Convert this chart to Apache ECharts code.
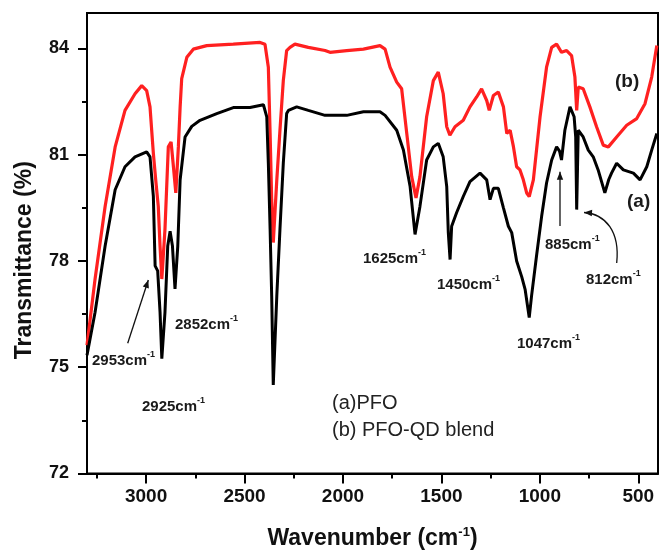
<!DOCTYPE html>
<html>
<head>
<meta charset="utf-8">
<script src="https://cdn.jsdelivr.net/npm/echarts@6/dist/echarts.min.js"></script>
<style>
html,body{margin:0;padding:0;background:#fff;}
#chart{width:659px;height:555px;}
</style>
</head>
<body>
<div id="chart"></div>
<script>
// ---- data ----
const pfoWave = [3300,3259,3208,3157,3107,3056,2997,2980,2963,2954,2941,2929,2920,2904,2890,2878,2866,2853,2839,2827,2802,2768,2726,2641,2557,2472,2404,2387,2379,2370,2362,2354,2336,2320,2303,2286,2277,2235,2176,2091,2066,1981,1896,1812,1786,1727,1693,1659,1634,1609,1575,1541,1516,1491,1473,1465,1456,1448,1423,1389,1355,1304,1270,1253,1236,1211,1185,1160,1143,1118,1092,1075,1054,1042,1017,991,966,940,915,900,890,873,847,826,818,813,805,780,754,729,704,670,650,636,610,576,525,491,457,432,406];
const pfoT = [75.34,76.55,78.42,80.01,80.66,80.94,81.08,80.94,79.82,77.86,77.72,76.55,75.24,76.55,78.42,78.84,78.42,77.21,78.42,80.29,81.50,81.80,81.97,82.16,82.33,82.33,82.41,82.07,80.76,78.89,77.02,74.50,77.02,78.89,80.76,82.16,82.25,82.35,82.25,82.11,82.11,82.11,82.21,82.21,82.11,81.69,81.13,80.10,78.75,79.54,80.85,81.22,81.32,80.94,80.10,78.80,78.04,78.98,79.36,79.82,80.24,80.48,80.29,79.73,80.05,80.05,79.50,78.98,78.80,78.00,77.55,77.20,76.40,77.02,78.14,79.26,80.20,80.85,81.22,81.10,80.85,81.69,82.35,82.07,81.50,79.45,81.69,81.50,81.13,80.94,80.57,79.92,80.30,80.48,80.76,80.57,80.48,80.29,80.66,81.13,81.60];

const blendWave = [3300,3259,3208,3157,3107,3056,3022,2997,2980,2963,2951,2938,2929,2920,2904,2887,2873,2861,2849,2836,2827,2819,2793,2760,2692,2557,2421,2396,2379,2370,2362,2354,2345,2336,2320,2303,2286,2269,2244,2176,2091,2066,1981,1896,1812,1786,1761,1727,1702,1676,1651,1629,1609,1575,1541,1516,1491,1473,1457,1431,1389,1355,1321,1296,1270,1257,1236,1211,1185,1168,1151,1134,1118,1101,1084,1067,1054,1033,999,966,940,915,890,864,839,822,813,805,780,746,712,678,652,610,559,508,466,432,406];
const blendT = [75.62,77.49,79.54,81.22,82.25,82.72,82.95,82.81,82.35,81.04,80.29,79.54,78.42,77.49,78.89,81.22,81.36,80.66,79.92,81.22,82.35,83.15,83.75,83.98,84.08,84.12,84.17,84.12,83.47,81.60,79.73,78.52,79.40,80.29,81.69,83.09,83.94,84.03,84.12,84.03,83.94,83.89,83.94,83.98,84.08,83.98,83.47,83.05,82.86,81.60,80.38,79.78,80.38,82.07,83.09,83.33,82.72,81.79,81.55,81.79,81.97,82.35,82.63,82.86,82.53,82.25,82.67,82.77,82.35,81.60,81.69,81.22,80.66,80.57,80.29,79.92,79.82,80.29,82.07,83.47,84.03,84.12,83.89,83.94,83.80,83.19,82.25,82.91,82.86,82.35,81.79,81.27,81.22,81.50,81.83,82.02,82.44,83.19,84.08];

const xMajorTicks = [500,1000,1500,2000,2500,3000];
const xMinorTicks = [750,1250,1750,2250,2750,3250];
const yMajorTicks = [72,75,78,81,84];
const yMinorTicks = [73.5,76.5,79.5,82.5];
const seriesNames = ['(a)PFO','(b) PFO-QD blend'];

// ---- chart ----
const FONT = 'Arial, "Liberation Sans", sans-serif';
const chart = echarts.init(document.getElementById('chart'), null, {renderer:'canvas'});

function pairs(xs, ys){ return xs.map((x,i)=>[x, ys[i]]); }

const axisLineStyle = {color:'#000', width:2};

function label(text, x, y){
  return {
    type:'text', x:x, y:y, z:100,
    style:{
      text:'{a|'+text+'}{b|-1}',
      verticalAlign:'middle', align:'left',
      rich:{
        a:{fontFamily:FONT, fontSize:15, fontWeight:'bold', fill:'#1a1a1a', lineHeight:18, verticalAlign:'bottom'},
        b:{fontFamily:FONT, fontSize:9, fontWeight:'bold', fill:'#1a1a1a', lineHeight:18, verticalAlign:'top'}
      }
    }
  };
}
function arrowHead(x1,y1,x2,y2){
  const a = Math.atan2(y2-y1, x2-x1), L = 8, W = 3.2;
  const bx = x2 - L*Math.cos(a), by = y2 - L*Math.sin(a);
  return {
    type:'polygon', z:100,
    shape:{points:[[x2,y2],[bx + W*Math.sin(a), by - W*Math.cos(a)],[bx - W*Math.sin(a), by + W*Math.cos(a)]]},
    style:{fill:'#111'}
  };
}

const option = {
  animation:false,
  backgroundColor:'#fff',
  grid:{left:87, top:13, right:1, bottom:78, show:true, borderColor:'#000', borderWidth:2, containLabel:false},
  xAxis:[{
    type:'value', min:400, max:3300, inverse:true, position:'bottom',
    name:'Wavenumber (cm{s|-1})', nameLocation:'middle', nameGap:52,
    nameTextStyle:{fontFamily:FONT, fontSize:23, fontWeight:'bold', color:'#111',
      rich:{s:{fontFamily:FONT, fontSize:13, fontWeight:'bold', color:'#111', verticalAlign:'top', lineHeight:26}}},
    axisLine:{show:true, lineStyle:axisLineStyle},
    axisTick:{show:true, inside:false, length:10, lineStyle:{color:'#000', width:2}, customValues:xMajorTicks},
    axisLabel:{show:true, margin:14, fontFamily:FONT, fontSize:19, fontWeight:'bold', color:'#111', customValues:xMajorTicks,
      formatter:function(v){ return String(Math.round(v)); }},
    splitLine:{show:false}
  },{
    type:'value', min:400, max:3300, inverse:true, position:'bottom',
    axisLine:{show:false},
    axisTick:{show:true, inside:false, length:5, lineStyle:{color:'#000', width:2}, customValues:xMinorTicks},
    axisLabel:{show:false},
    splitLine:{show:false}
  }],
  yAxis:[{
    type:'value', min:72, max:85, position:'left',
    name:'Transmittance (%)', nameLocation:'middle', nameGap:51,
    nameTextStyle:{fontFamily:FONT, fontSize:23, fontWeight:'bold', color:'#111', padding:[0,34,0,0]},
    axisLine:{show:true, lineStyle:axisLineStyle},
    axisTick:{show:true, inside:false, length:9, lineStyle:{color:'#000', width:2}, customValues:yMajorTicks},
    axisLabel:{show:true, margin:18, fontFamily:FONT, fontSize:18, fontWeight:'bold', color:'#111', customValues:yMajorTicks,
      formatter:function(v){ return String(Math.round(v)); }},
    splitLine:{show:false}
  },{
    type:'value', min:72, max:85, position:'left',
    axisLine:{show:false},
    axisTick:{show:true, inside:false, length:5, lineStyle:{color:'#000', width:2}, customValues:yMinorTicks},
    axisLabel:{show:false},
    splitLine:{show:false}
  }],
  series:[
    {name:seriesNames[1], type:'line', xAxisIndex:0, yAxisIndex:0, data:pairs(blendWave, blendT),
     showSymbol:false, smooth:false, z:2, lineStyle:{color:'#ff2020', width:3.2}, itemStyle:{color:'#ff2020'}},
    {name:seriesNames[0], type:'line', xAxisIndex:0, yAxisIndex:0, data:pairs(pfoWave, pfoT),
     showSymbol:false, smooth:false, z:3, lineStyle:{color:'#000', width:3}, itemStyle:{color:'#000'}}
  ],
  graphic:[
    label('2953cm', 92, 359),
    label('2925cm', 142, 405),
    label('2852cm', 175, 323),
    label('1625cm', 363, 257),
    label('1450cm', 437, 283),
    label('1047cm', 517, 342),
    label('885cm', 545, 243),
    label('812cm', 586, 278),
    {type:'line', z:100, shape:{x1:127.7, y1:343.3, x2:148.3, y2:280}, style:{stroke:'#111', lineWidth:1.3}},
    arrowHead(127.7,343.3,148.3,280),
    {type:'line', z:100, shape:{x1:560, y1:226, x2:560, y2:171.7}, style:{stroke:'#111', lineWidth:1.3}},
    arrowHead(560,226,560,171.7),
    {type:'bezierCurve', z:100, shape:{x1:616.7, y1:263, cpx1:620, cpy1:232, cpx2:606, cpy2:214, x2:584, y2:212.5}, style:{stroke:'#111', lineWidth:1.3, fill:null}},
    arrowHead(600,213.5,584,212.5),
    {type:'text', x:615, y:82, z:100, style:{text:'(b)', fontFamily:FONT, fontSize:19, fontWeight:'bold', fill:'#1a1a1a', verticalAlign:'middle', align:'left'}},
    {type:'text', x:627, y:202, z:100, style:{text:'(a)', fontFamily:FONT, fontSize:19, fontWeight:'bold', fill:'#1a1a1a', verticalAlign:'middle', align:'left'}},
    {type:'text', x:332, y:403, z:100, style:{text:seriesNames[0], fontFamily:FONT, fontSize:20, fill:'#222', verticalAlign:'middle', align:'left'}},
    {type:'text', x:332, y:430, z:100, style:{text:seriesNames[1], fontFamily:FONT, fontSize:20, fill:'#222', verticalAlign:'middle', align:'left'}}
  ]
};
chart.setOption(option);
</script>
</body>
</html>
